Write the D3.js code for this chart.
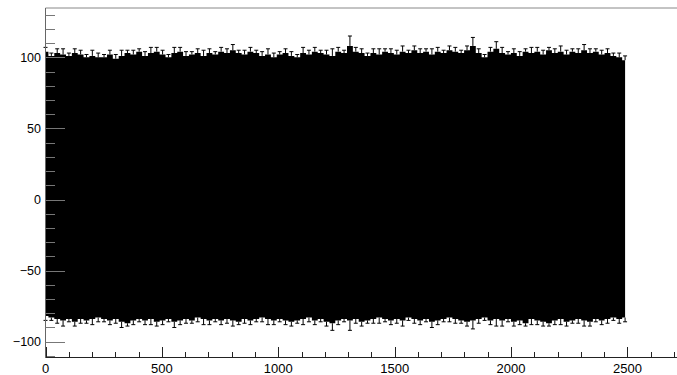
<!DOCTYPE html>
<html>
<head>
<meta charset="utf-8">
<script src="https://cdn.jsdelivr.net/npm/d3@7"></script>
<style>
  body { margin: 0; background: #fff; }
  svg { display: block; font-family: "Liberation Sans", Arial, sans-serif; }
</style>
</head>
<body>
<div id="chart"></div>
<script>
// envelope of the graph, read at 100 evenly spaced points from 0 to 2490
const xLast = 2490;
const topVals = [
  104, 101, 103, 102, 101, 103, 102, 100, 101, 100,
  100, 102, 99, 101, 103, 102, 104, 101, 103, 104,
  102, 100, 103, 104, 101, 102, 103, 101, 103, 102,
  104, 103, 105, 103, 102, 104, 103, 101, 102, 100,
  102, 103, 101, 100, 103, 102, 104, 103, 102, 101,
  104, 103, 108, 104, 103, 101, 103, 102, 104, 103,
  102, 104, 103, 105, 103, 104, 102, 104, 103, 105,
  104, 103, 105, 108, 103, 100, 104, 106, 103, 102,
  103, 101, 104, 103, 104, 102, 105, 103, 104, 102,
  104, 103, 105, 103, 104, 102, 103, 101, 100, 98
];
const botVals = [
  -82, -83, -84, -85, -84, -86, -84, -85, -84, -83,
  -84, -85, -84, -86, -87, -85, -84, -85, -84, -86,
  -85, -84, -86, -85, -84, -85, -83, -84, -85, -84,
  -85, -84, -85, -86, -84, -85, -84, -83, -84, -85,
  -84, -85, -86, -85, -84, -83, -85, -84, -86, -87,
  -85, -84, -85, -84, -86, -85, -84, -83, -84, -85,
  -84, -85, -83, -84, -85, -84, -86, -85, -84, -83,
  -84, -85, -86, -85, -84, -83, -85, -84, -85, -84,
  -86, -85, -87, -84, -85, -86, -87, -85, -84, -86,
  -85, -84, -85, -86, -84, -85, -84, -83, -84, -83
];
const errVals = [
  3, 2, 3, 4, 2, 3, 3, 2, 4, 3,
  2, 3, 3, 4, 2, 3, 2, 3, 4, 3,
  3, 2, 4, 3, 3, 2, 3, 4, 3, 2,
  3, 3, 4, 2, 3, 3, 2, 3, 4, 3,
  2, 3, 3, 2, 4, 3, 3, 2, 3, 5,
  3, 2, 7, 3, 3, 2, 3, 4, 2, 3,
  3, 4, 2, 3, 3, 2, 4, 3, 2, 3,
  3, 2, 3, 6, 3, 2, 3, 5, 4, 2,
  3, 3, 2, 4, 3, 3, 2, 3, 4, 3,
  2, 3, 4, 3, 2, 3, 3, 2, 3, 3
];
const xTicks = [0, 500, 1000, 1500, 2000, 2500];
const yTicks = [-100, -50, 0, 50, 100];

const width = 677, height = 375;
const x = d3.scaleLinear().domain([0, 2713]).range([45.5, 677]);
const y = d3.scaleLinear().domain([-111.1, 134.7]).range([357.5, 8]);

const xStep = xLast / (topVals.length - 1);
const data = topVals.map((t, i) => ({ x: i * xStep, top: t, bot: botVals[i], err: errVals[i] }));

const svg = d3.select('#chart').append('svg')
    .attr('width', width)
    .attr('height', height);

// filled band of overlapping markers / lines
svg.append('path')
    .datum(data)
    .attr('fill', '#000')
    .attr('d', d3.area().curve(d3.curveStep).x(d => x(d.x)).y0(d => y(d.bot)).y1(d => y(d.top)));

// error bars on the envelope points
const bars = svg.append('g').attr('stroke', '#000').attr('stroke-width', 1);
data.forEach(d => {
  const cx = x(d.x);
  bars.append('line').attr('x1', cx).attr('x2', cx).attr('y1', y(d.top + d.err)).attr('y2', y(d.top));
  bars.append('line').attr('x1', cx - 2).attr('x2', cx + 2).attr('y1', y(d.top + d.err)).attr('y2', y(d.top + d.err));
  bars.append('line').attr('x1', cx).attr('x2', cx).attr('y1', y(d.bot - d.err)).attr('y2', y(d.bot));
  bars.append('line').attr('x1', cx - 2).attr('x2', cx + 2).attr('y1', y(d.bot - d.err)).attr('y2', y(d.bot - d.err));
});

// frame
svg.append('line').attr('x1', 45.5).attr('x2', 677).attr('y1', 8).attr('y2', 8).attr('stroke', '#888');
svg.append('line').attr('x1', 45.5).attr('x2', 45.5).attr('y1', 8).attr('y2', 357.5).attr('stroke', '#666');
svg.append('line').attr('x1', 45.5).attr('x2', 677).attr('y1', 357.5).attr('y2', 357.5).attr('stroke', '#222');

// y ticks
const yMinor = d3.range(-110, 135, 10);
svg.append('g').selectAll('line').data(yMinor).enter().append('line')
    .attr('x1', 45.5)
    .attr('x2', d => yTicks.includes(d) ? 65 : 55)
    .attr('y1', d => Math.round(y(d)) + 0.5)
    .attr('y2', d => Math.round(y(d)) + 0.5)
    .attr('stroke', '#777');

svg.append('g').selectAll('text').data(yTicks).enter().append('text')
    .attr('x', 41)
    .attr('y', d => y(d))
    .attr('dy', '0.36em')
    .attr('text-anchor', 'end')
    .style('font-size', '12.5px')
    .text(d => d < 0 ? '\u2212' + Math.abs(d) : d);

// x ticks
const xMinor = d3.range(0, 2701, 100);
svg.append('g').selectAll('line').data(xMinor).enter().append('line')
    .attr('x1', d => Math.round(x(d)) + 0.5)
    .attr('x2', d => Math.round(x(d)) + 0.5)
    .attr('y1', 357.5)
    .attr('y2', d => xTicks.includes(d) ? 347 : 352)
    .attr('stroke', '#222');

svg.append('g').selectAll('text').data(xTicks).enter().append('text')
    .attr('x', d => x(d))
    .attr('y', 372.5)
    .attr('text-anchor', 'middle')
    .style('font-size', '13px')
    .text(d => d);
</script>
</body>
</html>
